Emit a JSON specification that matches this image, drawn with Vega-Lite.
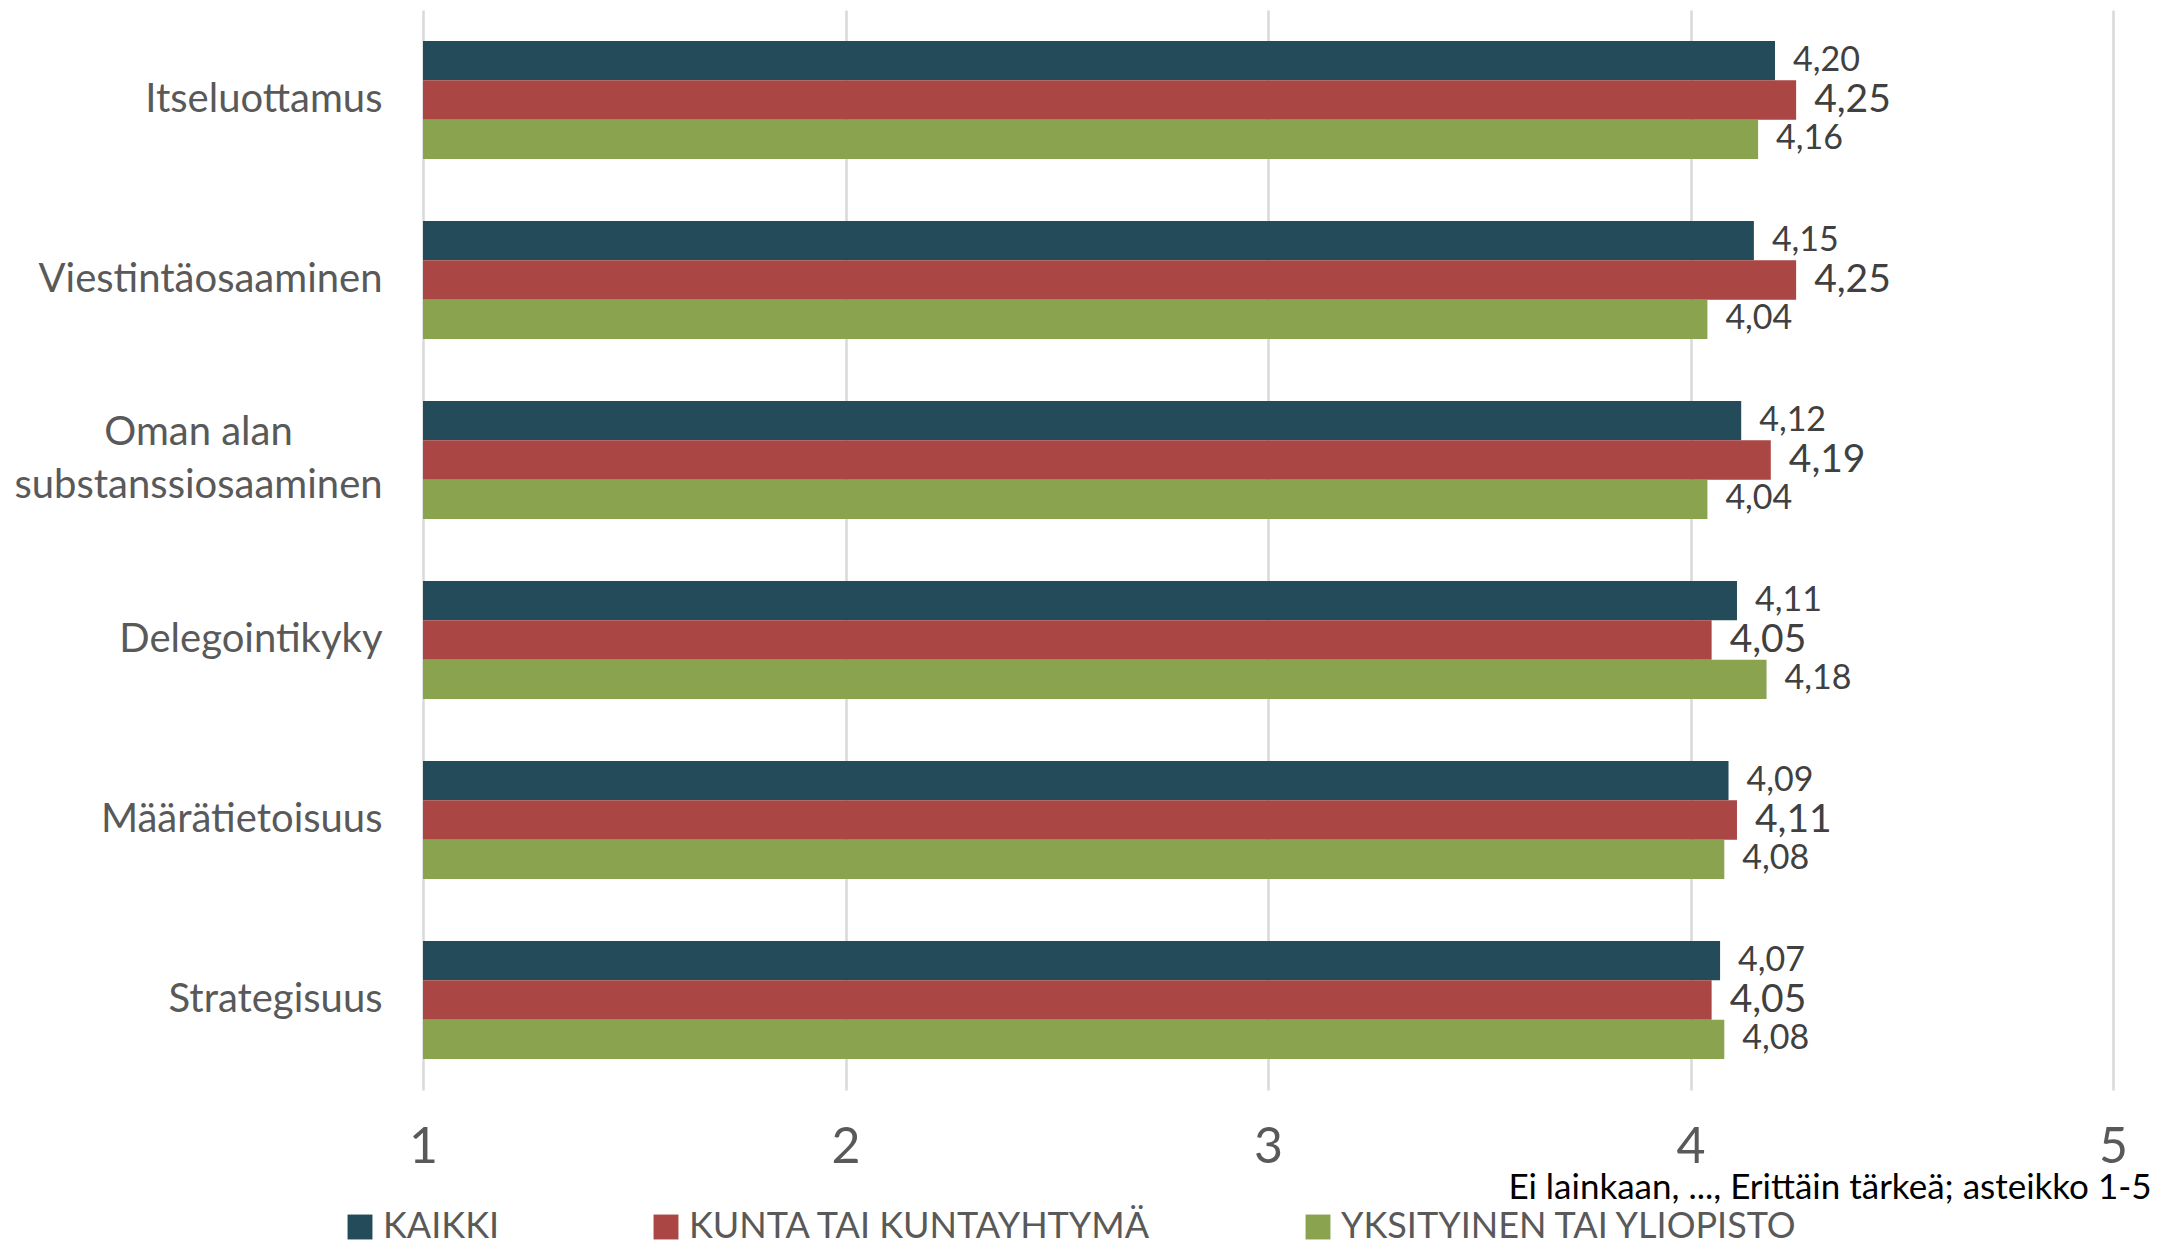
{
  "$schema": "https://vega.github.io/schema/vega-lite/v6.json",
  "autosize": {"type": "none"},
  "padding": {"left": 423, "top": 10, "right": 52, "bottom": 155},
  "width": 1690,
  "height": 1080,
  "background": "white",
  "config": {
    "font": "Lato",
    "view": {"stroke": null},
    "locale": {"number": {"decimal": ",", "thousands": " ", "grouping": [3], "currency": ["", " €"]}}
  },
  "data": {
    "values": [
      {"category": "Itseluottamus", "series": "KAIKKI", "value": 4.20},
      {"category": "Itseluottamus", "series": "KUNTA TAI KUNTAYHTYMÄ", "value": 4.25},
      {"category": "Itseluottamus", "series": "YKSITYINEN TAI YLIOPISTO", "value": 4.16},
      {"category": "Viestintäosaaminen", "series": "KAIKKI", "value": 4.15},
      {"category": "Viestintäosaaminen", "series": "KUNTA TAI KUNTAYHTYMÄ", "value": 4.25},
      {"category": "Viestintäosaaminen", "series": "YKSITYINEN TAI YLIOPISTO", "value": 4.04},
      {"category": "Oman alan substanssiosaaminen", "series": "KAIKKI", "value": 4.12},
      {"category": "Oman alan substanssiosaaminen", "series": "KUNTA TAI KUNTAYHTYMÄ", "value": 4.19},
      {"category": "Oman alan substanssiosaaminen", "series": "YKSITYINEN TAI YLIOPISTO", "value": 4.04},
      {"category": "Delegointikyky", "series": "KAIKKI", "value": 4.11},
      {"category": "Delegointikyky", "series": "KUNTA TAI KUNTAYHTYMÄ", "value": 4.05},
      {"category": "Delegointikyky", "series": "YKSITYINEN TAI YLIOPISTO", "value": 4.18},
      {"category": "Määrätietoisuus", "series": "KAIKKI", "value": 4.09},
      {"category": "Määrätietoisuus", "series": "KUNTA TAI KUNTAYHTYMÄ", "value": 4.11},
      {"category": "Määrätietoisuus", "series": "YKSITYINEN TAI YLIOPISTO", "value": 4.08},
      {"category": "Strategisuus", "series": "KAIKKI", "value": 4.07},
      {"category": "Strategisuus", "series": "KUNTA TAI KUNTAYHTYMÄ", "value": 4.05},
      {"category": "Strategisuus", "series": "YKSITYINEN TAI YLIOPISTO", "value": 4.08}
    ]
  },
  "encoding": {
    "y": {
      "field": "category",
      "type": "nominal",
      "sort": ["Itseluottamus", "Viestintäosaaminen", "Oman alan substanssiosaaminen", "Delegointikyky", "Määrätietoisuus", "Strategisuus"],
      "scale": {"paddingInner": 0.344, "paddingOuter": 0.172},
      "axis": {
        "title": null,
        "domain": false,
        "ticks": false,
        "tickSize": 0,
        "grid": false,
        "labelFontSize": 40,
        "labelColor": "#595959",
        "labelLineHeight": 53,
        "labelLimit": 0,
        "labelExpr": "datum.label == 'Oman alan substanssiosaaminen' ? ['Oman alan', 'substanssiosaaminen'] : datum.label",
        "labelAlign": {"condition": {"test": "datum.label == 'Oman alan substanssiosaaminen'", "value": "center"}, "value": "right"},
        "labelPadding": {"condition": {"test": "datum.label == 'Oman alan substanssiosaaminen'", "value": 225}, "value": 41},
        "labelOffset": {"condition": {"test": "datum.label == 'Oman alan substanssiosaaminen'", "value": -27}, "value": 0}
      }
    },
    "yOffset": {
      "field": "series",
      "type": "nominal",
      "sort": ["KAIKKI", "KUNTA TAI KUNTAYHTYMÄ", "YKSITYINEN TAI YLIOPISTO"],
      "scale": {"paddingInner": 0, "paddingOuter": 0}
    }
  },
  "layer": [
    {
      "mark": {"type": "bar"},
      "encoding": {
        "x": {
          "field": "value",
          "type": "quantitative",
          "scale": {"domain": [1, 5], "nice": false, "zero": false},
          "axis": {
            "values": [1, 2, 3, 4, 5],
            "format": "d",
            "domain": false,
            "ticks": false,
            "tickSize": 0,
            "grid": true,
            "gridColor": "#d9d9d9",
            "gridWidth": 2.5,
            "labelFlush": false,
            "labelOverlap": false,
            "labelFontSize": 50,
            "labelColor": "#595959",
            "labelBaseline": "middle",
            "labelPadding": 57,
            "title": "Ei lainkaan, ..., Erittäin tärkeä; asteikko 1-5",
            "titleX": 1728,
            "titleY": 97,
            "titleAlign": "right",
            "titleBaseline": "middle",
            "titleFontSize": 35,
            "titleFontWeight": "normal",
            "titleColor": "#000000"
          }
        },
        "x2": {"datum": 1},
        "color": {
          "field": "series",
          "type": "nominal",
          "sort": ["KAIKKI", "KUNTA TAI KUNTAYHTYMÄ", "YKSITYINEN TAI YLIOPISTO"],
          "scale": {"domain": ["KAIKKI", "KUNTA TAI KUNTAYHTYMÄ", "YKSITYINEN TAI YLIOPISTO"], "range": ["#234B5A", "#AA4644", "#89A34E"]},
          "legend": {
            "title": null,
            "orient": "none",
            "direction": "horizontal",
            "legendX": -81,
            "legendY": 1199,
            "symbolType": "square",
            "symbolSize": 620,
            "symbolStrokeWidth": 0,
            "symbolOpacity": 1,
            "labelFontSize": 36,
            "labelColor": "#595959",
            "labelOffset": 5,
            "labelLimit": 0,
            "columnPadding": 148
          }
        }
      }
    },
    {
      "mark": {"type": "text", "align": "left", "baseline": "middle", "dx": 18, "color": "#404040"},
      "encoding": {
        "x": {"field": "value", "type": "quantitative"},
        "text": {"field": "value", "type": "quantitative", "format": ".2f"},
        "size": {"condition": {"test": "datum.series === 'KUNTA TAI KUNTAYHTYMÄ'", "value": 39}, "value": 34}
      }
    }
  ]
}
